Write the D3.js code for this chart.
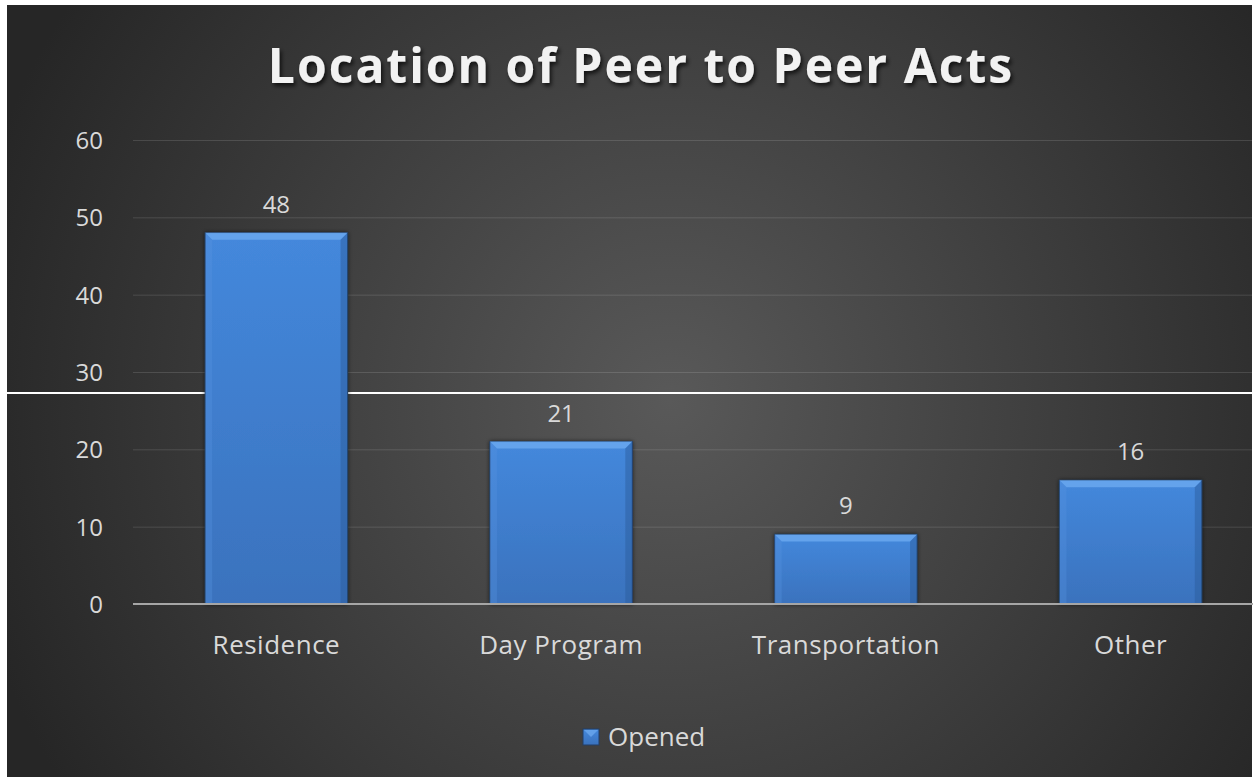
<!DOCTYPE html>
<html>
<head>
<meta charset="utf-8">
<script src="https://cdn.jsdelivr.net/npm/d3@7"></script>
<style>
  body { margin: 0; background: #fff; }
  text { font-family: "Open Sans", sans-serif; }
</style>
</head>
<body>
<div id="chart"></div>
<script>
// data
var categories = ["Residence", "Day Program", "Transportation", "Other"];
var opened = [48, 21, 9, 16];
var yTicks = [0, 10, 20, 30, 40, 50, 60];
var seriesName = "Opened";
var title = "Location of Peer to Peer Acts";

var W = 1253, H = 777;
var svg = d3.select("#chart").append("svg").attr("width", W).attr("height", H);
var defs = svg.append("defs");

var bg = defs.append("radialGradient").attr("id", "bg")
    .attr("gradientUnits", "userSpaceOnUse")
    .attr("cx", 670).attr("cy", 400).attr("r", 720);
bg.append("stop").attr("offset", 0).attr("stop-color", "#595959");
bg.append("stop").attr("offset", 1).attr("stop-color", "#262626");

var barGrad = defs.append("linearGradient").attr("id", "barg")
    .attr("x1", 0).attr("y1", 0).attr("x2", 0).attr("y2", 1);
barGrad.append("stop").attr("offset", 0).attr("stop-color", "#4488dc");
barGrad.append("stop").attr("offset", 1).attr("stop-color", "#3a72bd");

var shadow = defs.append("filter").attr("id", "tshadow")
    .attr("x", "-5%").attr("y", "-20%").attr("width", "110%").attr("height", "150%");
shadow.append("feDropShadow").attr("dx", 2).attr("dy", 3).attr("stdDeviation", 2)
    .attr("flood-color", "#000").attr("flood-opacity", 0.7);

var bshadow = defs.append("filter").attr("id", "bshadow")
    .attr("x", "-10%").attr("y", "-10%").attr("width", "120%").attr("height", "120%");
bshadow.append("feDropShadow").attr("dx", 0).attr("dy", 0).attr("stdDeviation", 2)
    .attr("flood-color", "#000").attr("flood-opacity", 0.6);

// chart background (image has a thin white margin top/left/right)
svg.append("rect").attr("x", 7).attr("y", 5).attr("width", W - 8).attr("height", H - 5)
    .attr("fill", "url(#bg)");

var y = d3.scaleLinear().domain([0, 60]).range([604, 140]);
var x = d3.scaleBand().domain(categories).range([134, 1273])
    .paddingInner(0.5).paddingOuter(0.25);

// title
svg.append("text").attr("x", 641).attr("y", 83)
    .attr("text-anchor", "middle")
    .style("font-size", "48px").style("font-weight", "bold")
    .style("letter-spacing", "2px")
    .attr("fill", "#f2f2f2").attr("filter", "url(#tshadow)")
    .text(title);

// gridlines + y labels
var yAxis = d3.axisLeft(y).tickValues(yTicks).tickSize(-(W - 133)).tickPadding(30);
var gy = svg.append("g").attr("transform", "translate(133,0)").call(yAxis);
gy.select(".domain").remove();
gy.selectAll(".tick line").attr("stroke", "#ffffff").attr("stroke-opacity", 0.13);
gy.selectAll(".tick text").attr("fill", "#d9d9d9").style("font-size", "24px")
    .attr("dy", "0.35em");

// white seam across the picture
svg.append("line").attr("x1", 7).attr("x2", W).attr("y1", 393).attr("y2", 393)
    .attr("stroke", "#ffffff").attr("stroke-width", 2);

// bars
var bars = svg.append("g").selectAll("g").data(opened).enter().append("g");
bars.append("rect")
    .attr("x", function(d, i){ return x(categories[i]); })
    .attr("y", function(d){ return y(d); })
    .attr("width", x.bandwidth())
    .attr("height", function(d){ return y(0) - y(d); })
    .attr("fill", "url(#barg)")
    .attr("stroke", "#233f66").attr("stroke-width", 1)
    .attr("filter", "url(#bshadow)");
// top bevel
var bev = 7;
bars.append("polygon")
    .attr("points", function(d, i){
        var x0 = x(categories[i]), x1 = x0 + x.bandwidth(), t = y(d);
        return [[x0, t], [x1, t], [x1 - bev, t + bev], [x0 + bev, t + bev]].join(" ");
    })
    .attr("fill", "#6aa8ee").attr("fill-opacity", 0.85);
// side bevels
bars.append("polygon")
    .attr("points", function(d, i){
        var x0 = x(categories[i]), t = y(d), b = y(0);
        return [[x0, t], [x0 + bev, t + bev], [x0 + bev, b], [x0, b]].join(" ");
    })
    .attr("fill", "#5593e0").attr("fill-opacity", 0.35);
bars.append("polygon")
    .attr("points", function(d, i){
        var x1 = x(categories[i]) + x.bandwidth(), t = y(d), b = y(0);
        return [[x1, t], [x1 - bev, t + bev], [x1 - bev, b], [x1, b]].join(" ");
    })
    .attr("fill", "#2a5a98").attr("fill-opacity", 0.45);

// value labels
bars.append("text")
    .attr("x", function(d, i){ return x(categories[i]) + x.bandwidth() / 2; })
    .attr("y", function(d){ return y(d) - 20; })
    .attr("text-anchor", "middle")
    .attr("fill", "#d9d9d9").style("font-size", "24px")
    .text(function(d){ return d; });

// baseline
svg.append("line").attr("x1", 133).attr("x2", W).attr("y1", y(0)).attr("y2", y(0))
    .attr("stroke", "#a6a6a6").attr("stroke-width", 2);

// category labels
var xAxis = d3.axisBottom(x).tickSize(0).tickPadding(32);
var gx = svg.append("g").attr("transform", "translate(0," + y(0) + ")").call(xAxis);
gx.select(".domain").remove();
gx.selectAll(".tick text").attr("fill", "#d9d9d9").style("font-size", "26px")
    .style("letter-spacing", "0.5px");

// legend
var leg = svg.append("g").attr("transform", "translate(583,729)");
leg.append("rect").attr("width", 16).attr("height", 16)
    .attr("fill", "url(#barg)").attr("stroke", "#233f66");
leg.append("polygon").attr("points", "1,1 15,1 8,8").attr("fill", "#6aa8ee").attr("fill-opacity", 0.8);
leg.append("text").attr("x", 25).attr("y", 17)
    .attr("fill", "#d9d9d9").style("font-size", "26px")
    .text(seriesName);
</script>
</body>
</html>
